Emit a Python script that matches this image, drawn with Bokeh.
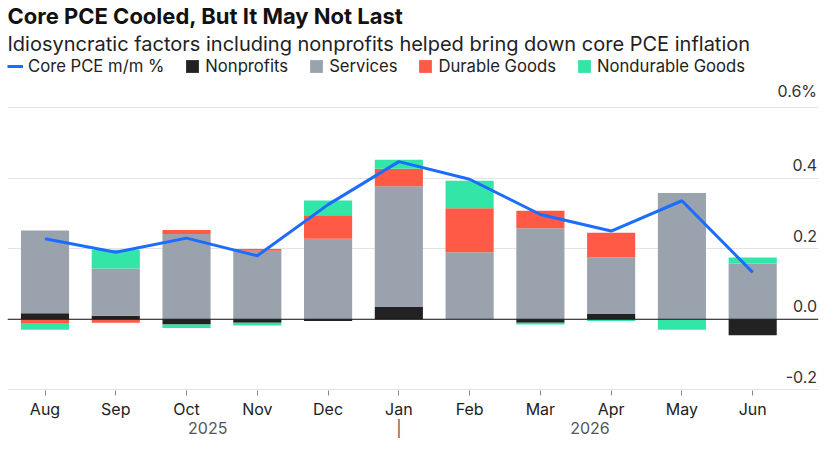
import numpy as np
from bokeh.plotting import figure
from bokeh.models import (Title, Legend, LegendItem, LinearAxis, FixedTicker, Range1d, Span)
from bokeh.core.properties import value
from bokeh.embed import file_html
from bokeh.resources import INLINE

months = ["Aug","Sep","Oct","Nov","Dec","Jan","Feb","Mar","Apr","May","Jun"]
core = [0.228,0.19,0.23,0.18,0.325,0.447,0.397,0.297,0.25,0.336,0.133]
nonprofits = [0.017,0.01,-0.015,-0.01,-0.005,0.035,0.0,-0.01,0.015,0.0,-0.045]
services = [0.235,0.134,0.242,0.194,0.228,0.342,0.19,0.258,0.161,0.358,0.158]
durable = [-0.013,-0.01,0.011,0.005,0.067,0.05,0.125,0.05,0.069,0.0,0.0]
nondurable = [-0.017,0.053,-0.01,-0.008,0.042,0.025,0.078,-0.005,-0.005,-0.03,0.017]
yticks = [-0.2,0.0,0.2,0.4,0.6]
ylabels = ["-0.2","0.0","0.2","0.4","0.6%"]
years = ["2025", "|", "2026"]
year_pos = [2.3, 5, 7.7]

FONT = "Inter"
x = np.arange(len(months))
p = figure(width=822, height=440, output_backend="svg", toolbar_location=None,
           x_range=Range1d(-0.53, 10.93), y_range=Range1d(-0.202, 0.745),
           min_border_left=7, min_border_right=4, min_border_bottom=0, min_border_top=0)
p.outline_line_color = None
p.background_fill_color = "white"
p.xgrid.grid_line_color = None
p.ygrid.ticker = FixedTicker(ticks=yticks)
p.ygrid.grid_line_color = "#e3e3e3"

series = [("Nonprofits", nonprofits, "#222222"), ("Services", services, "#9aa3ad"),
          ("Durable Goods", durable, "#ff5a45"), ("Nondurable Goods", nondurable, "#33e6a8")]
pos = np.zeros(len(x)); neg = np.zeros(len(x))
rends = {}
for name, vals, col in series:
    v = np.array(vals)
    bot = np.where(v >= 0, pos, neg)
    top = bot + v
    pos = np.where(v >= 0, top, pos); neg = np.where(v < 0, top, neg)
    rends[name] = p.vbar(x=x, bottom=bot, top=top, width=0.68, color=col, line_color=None)
p.add_layout(Span(location=0, dimension="width", line_color="#111111", line_width=1.2))
lr = p.line(x, core, color="#1a6dff", line_width=3)

items = [LegendItem(label="Core PCE m/m %", renderers=[lr])] + \
        [LegendItem(label=n, renderers=[rends[n]]) for n, _, _ in series]
leg = Legend(items=items, orientation="horizontal", location="top_left",
             label_text_font=FONT, label_text_font_size="12.5pt", label_text_color="#222",
             glyph_width=16, glyph_height=16, spacing=20, padding=0, margin=0,
             border_line_color=None, background_fill_alpha=0)
p.add_layout(leg)

p.text(x=[10.91]*len(yticks), y=[t + 0.02 for t in yticks], text=ylabels, text_align="right",
       text_baseline="bottom", text_font=value(FONT), text_font_size="12pt", text_color="#333")

p.yaxis.visible = False
p.xaxis.ticker = FixedTicker(ticks=list(x))
p.xaxis.major_label_overrides = {int(i): m for i, m in enumerate(months)}
p.xaxis.axis_line_color = None
p.xaxis.major_tick_line_color = "#888"
p.xaxis.major_tick_out = 5; p.xaxis.major_tick_in = 0
p.xaxis.minor_tick_line_color = None
p.xaxis.major_label_text_font = FONT
p.xaxis.major_label_text_font_size = "12pt"
p.xaxis.major_label_text_color = "#222"
p.xaxis.major_label_standoff = 3

ax2 = LinearAxis(ticker=FixedTicker(ticks=year_pos),
                 major_label_overrides={float(a): b for a, b in zip(year_pos, years)})
ax2.axis_line_color = None; ax2.major_tick_line_color = None; ax2.minor_tick_line_color = None
ax2.major_tick_out = 0; ax2.major_tick_in = 0
ax2.major_label_text_font = FONT; ax2.major_label_text_font_size = "12pt"
ax2.major_label_text_color = "#555"; ax2.major_label_standoff = -4
p.add_layout(ax2, "below")

p.add_layout(Title(text="Idiosyncratic factors including nonprofits helped bring down core PCE inflation",
                   text_font=FONT, text_font_size="15pt", text_font_style="normal", text_color="#222",
                   standoff=2), "above")
p.add_layout(Title(text="Core PCE Cooled, But It May Not Last", text_font=FONT,
                   text_font_size="16.5pt", text_font_style="bold", text_color="#111", standoff=0), "above")

open("out.html", "w").write(file_html(p, INLINE))
